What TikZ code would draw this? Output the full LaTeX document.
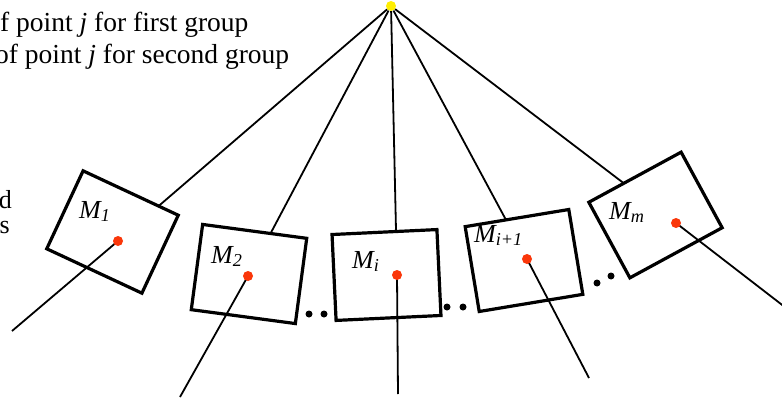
\documentclass[tikz,border=0pt]{standalone}
\usepackage{fontspec}
\setmainfont{Liberation Serif}
\definecolor{dotred}{RGB}{250,55,10}
\definecolor{dotyellow}{RGB}{255,238,0}
\begin{document}
\begin{tikzpicture}[x=1pt, y=1pt,
    box/.style={draw, line width=3.2pt, fill=white, minimum width=105pt, minimum height=86pt, inner sep=0pt},
    conn/.style={line width=1.8pt},
    reddot/.style={circle, fill=dotred, minimum size=10pt, inner sep=0pt},
    ellip/.style={circle, fill=black, minimum size=7pt, inner sep=0pt},
    lbl/.style={anchor=base west, inner sep=0pt, font=\fontsize{26}{30}\selectfont\itshape},
    txt/.style={anchor=base west, inner sep=0pt, font=\fontsize{27.5}{33}\selectfont}]
    % 1. Vung hien thi
    \clip (0, 0) rectangle (782, 400);

    % 2. Chu thich ben trai (bi cat)
    \node[txt] (txta) at (-13.75, 368) {of point \textit{j} for first group};
    \node[txt] (txtb) at (-5, 336) {of point \textit{j} for second group};
    \node[txt, anchor=base east, font=\fontsize{26}{30}\selectfont] (txtc) at (12, 192) {d};
    \node[txt, anchor=base east, font=\fontsize{26}{30}\selectfont] (txtd) at (10, 167) {s};

    % 3. Dinh chung (mau vang) va tam cac khung
    \node[circle, fill=dotyellow, minimum size=10pt, inner sep=0pt] (apex) at (391, 394) {};
    \coordinate (p1) at (118, 159);
    \coordinate (p2) at (248, 124);
    \coordinate (pi) at (397, 125);
    \coordinate (pj) at (527, 141);
    \coordinate (pm) at (676, 177);

    % 4. Day noi tu dinh xuong cac diem
    \draw[conn] (apex) -- (p1);
    \draw[conn] (apex) -- (p2);
    \draw[conn] (apex) -- (pi);
    \draw[conn] (apex) -- (pj);
    \draw[conn] (apex) -- (pm);

    % 5. Cac khung M (xoay)
    \node[box, rotate=-25] (m1) at (112.5, 168) {};
    \node[box, rotate=-7.6] (m2) at (249, 126) {};
    \node[box, rotate=2.7] (mi) at (386.5, 125) {};
    \node[box, rotate=9.4] (mj) at (524, 139.5) {};
    \node[box, rotate=28.5] (mm) at (655.5, 185) {};

    % Nhan cac khung
    \node[lbl] (l1) at (79, 182) {M\textsubscript{1}};
    \node[lbl] (l2) at (211, 137) {M\textsubscript{2}};
    \node[lbl] (li) at (352, 132) {M\textsubscript{i}};
    \node[lbl] (lj) at (474, 158) {M\textsubscript{i+1}};
    \node[lbl] (lm) at (609, 181) {M\textsubscript{m}};

    % 6. Day ra ngoai tu cac diem
    \coordinate (e1) at (12, 69);
    \coordinate (e2) at (180, 3);
    \coordinate (ei) at (398, 6);
    \coordinate (ej) at (589, 22);
    \coordinate (em) at (790, 89);
    \draw[conn] (p1) -- (e1);
    \draw[conn] (p2) -- (e2);
    \draw[conn] (pi) -- (ei);
    \draw[conn] (pj) -- (ej);
    \draw[conn] (pm) -- (em);

    % Diem do
    \node[reddot] (d1) at (p1) {};
    \node[reddot] (d2) at (p2) {};
    \node[reddot] (di) at (pi) {};
    \node[reddot] (dj) at (pj) {};
    \node[reddot] (dm) at (pm) {};

    % 7. Dau ba cham giua cac khung
    \node[ellip] (ea) at (309, 86) {};
    \node[ellip] (eb) at (324, 86) {};
    \node[ellip] (ec) at (447, 93) {};
    \node[ellip] (ed) at (463, 93) {};
    \node[ellip] (ee) at (597, 117) {};
    \node[ellip] (ef) at (611, 124) {};
\end{tikzpicture}
\end{document}
